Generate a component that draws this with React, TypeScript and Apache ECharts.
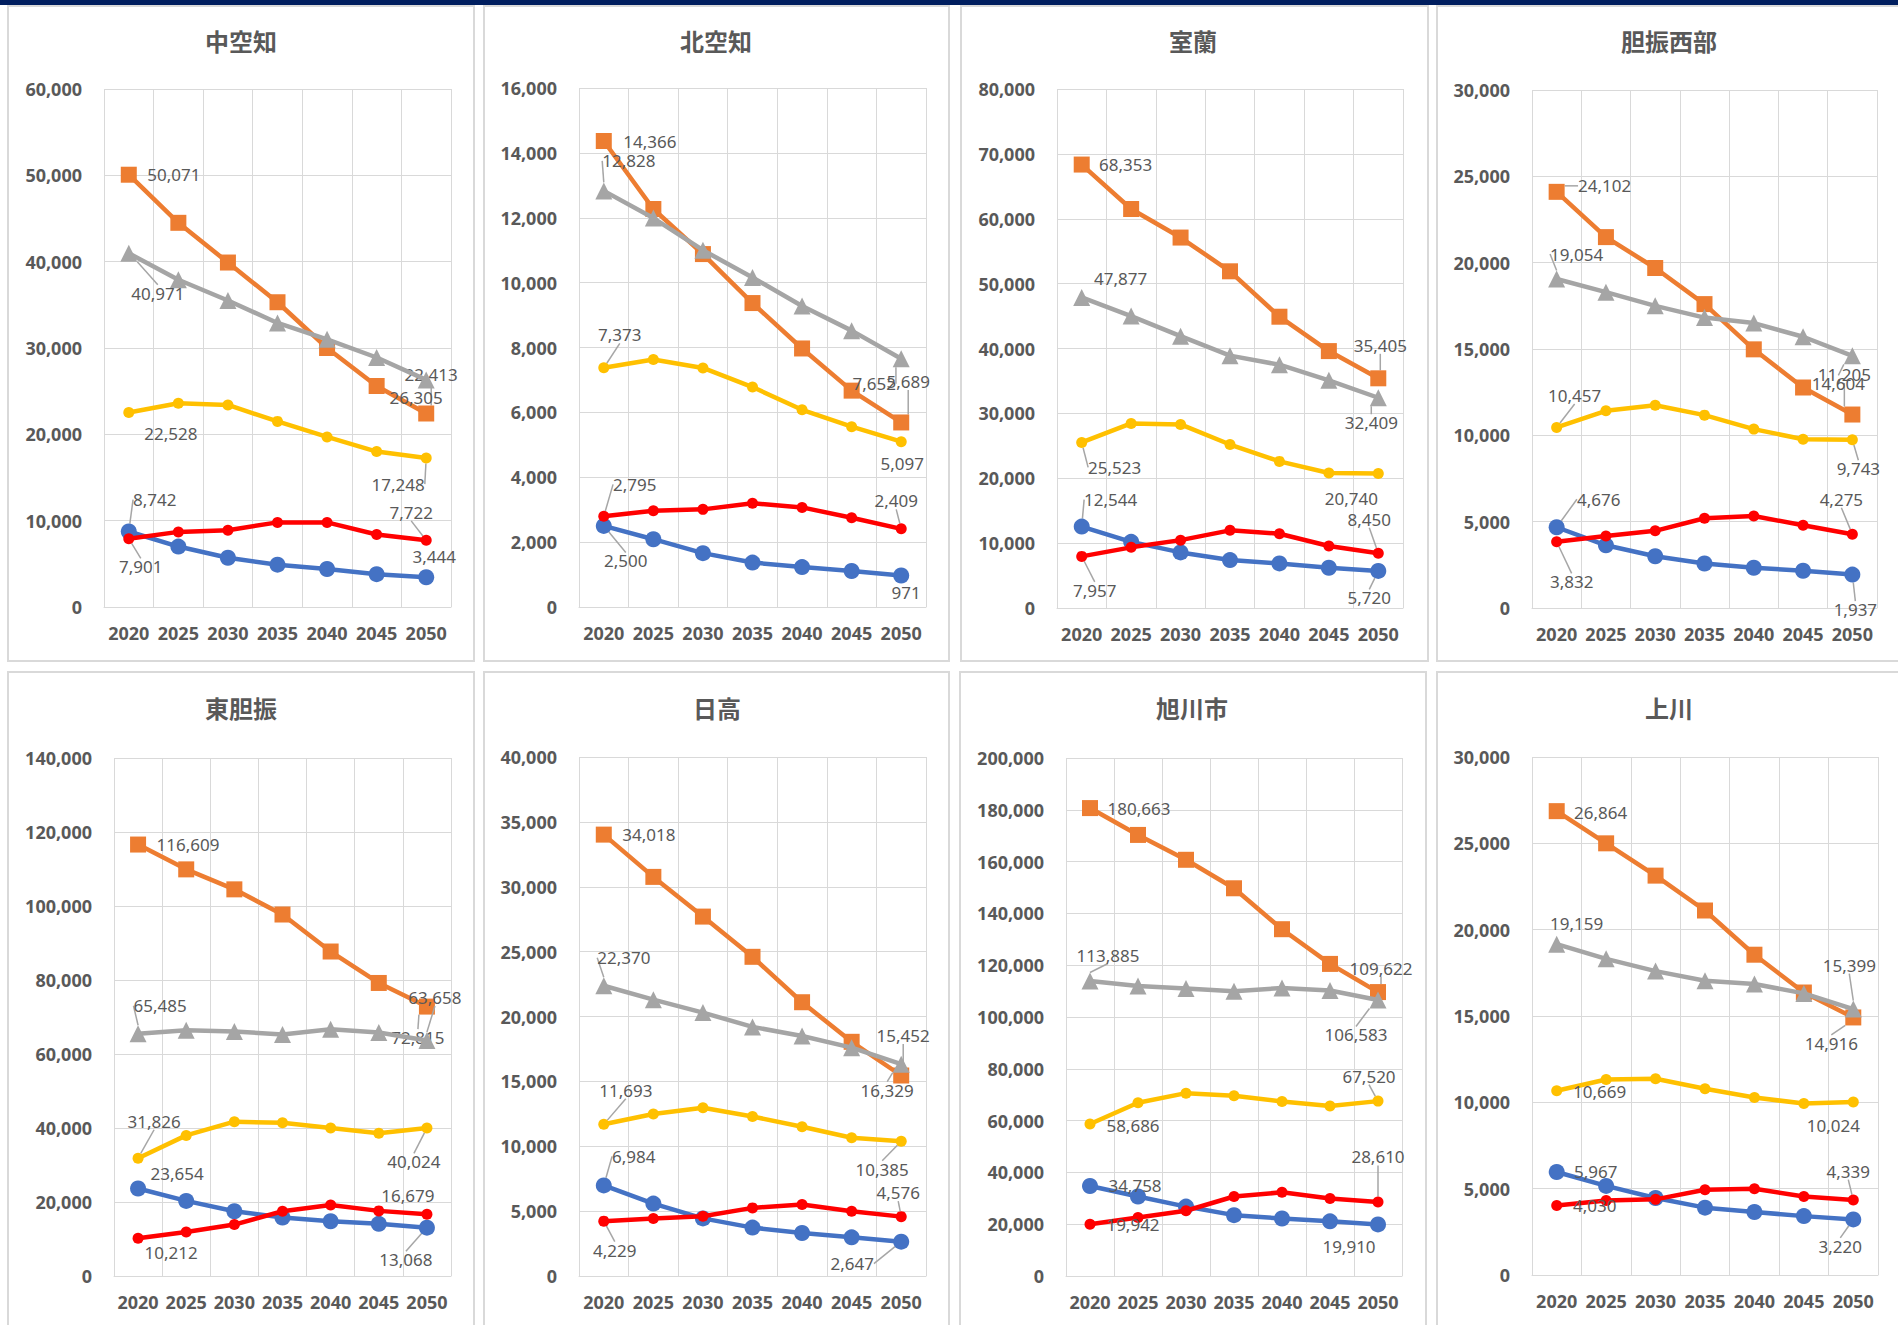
import React, { useEffect, useRef } from "react";
import * as echarts from "echarts";

// ---------------- data ----------------
const years = ["2020", "2025", "2030", "2035", "2040", "2045", "2050"];
const regions = ["中空知", "北空知", "室蘭", "胆振西部", "東胆振", "日高", "旭川市", "上川"];
const yMax = [60000, 16000, 80000, 30000, 140000, 40000, 200000, 30000];
const yStep = [10000, 2000, 10000, 5000, 20000, 5000, 20000, 5000];
const seriesNames = ["年少人口（0～14歳）", "生産年齢人口（15～64歳）", "老年人口（65歳以上）", "75歳以上", "85歳以上"];

const young = [
  [8742, 7000, 5700, 4900, 4400, 3800, 3444],
  [2500, 2090, 1660, 1370, 1230, 1110, 971],
  [12544, 10200, 8570, 7390, 6870, 6210, 5720],
  [4676, 3630, 3000, 2580, 2330, 2160, 1937],
  [23654, 20300, 17500, 15800, 14800, 14100, 13068],
  [6984, 5580, 4440, 3730, 3310, 2980, 2647],
  [34758, 30700, 26800, 23500, 22200, 21100, 19910],
  [5967, 5160, 4460, 3900, 3650, 3410, 3220],
];
const working = [
  [50071, 44500, 39900, 35300, 30000, 25600, 22413],
  [14366, 12270, 10880, 9370, 7970, 6670, 5689],
  [68353, 61500, 57100, 51900, 44900, 39600, 35405],
  [24102, 21480, 19690, 17600, 14980, 12770, 11205],
  [116609, 109900, 104500, 97700, 87700, 79200, 72815],
  [34018, 30760, 27700, 24600, 21100, 18050, 15452],
  [180663, 170300, 160700, 149700, 133900, 120500, 109622],
  [26864, 25000, 23130, 21110, 18550, 16360, 14916],
];
const elderly = [
  [40971, 37900, 35500, 32900, 31000, 28900, 26305],
  [12828, 11990, 11000, 10160, 9280, 8520, 7652],
  [47877, 45000, 41900, 38900, 37500, 35100, 32409],
  [19054, 18290, 17500, 16820, 16500, 15710, 14604],
  [65485, 66400, 66100, 65300, 66700, 65800, 63658],
  [22370, 21300, 20300, 19200, 18500, 17600, 16329],
  [113885, 112000, 111000, 109900, 111200, 110200, 106583],
  [19159, 18310, 17600, 17040, 16850, 16310, 15399],
];
const over75 = [
  [22528, 23600, 23400, 21500, 19700, 18000, 17248],
  [7373, 7630, 7370, 6780, 6080, 5560, 5097],
  [25523, 28450, 28300, 25200, 22600, 20800, 20740],
  [10457, 11420, 11740, 11170, 10360, 9770, 9743],
  [31826, 38000, 41700, 41400, 40000, 38600, 40024],
  [11693, 12480, 12970, 12290, 11500, 10660, 10385],
  [58686, 66900, 70600, 69600, 67400, 65600, 67520],
  [10669, 11320, 11370, 10790, 10280, 9930, 10024],
];
const over85 = [
  [7901, 8700, 8900, 9800, 9800, 8400, 7722],
  [2795, 2970, 3010, 3200, 3070, 2750, 2409],
  [7957, 9350, 10460, 11970, 11450, 9550, 8450],
  [3832, 4170, 4470, 5200, 5330, 4790, 4275],
  [10212, 11900, 13900, 17500, 19200, 17600, 16679],
  [4229, 4440, 4600, 5250, 5510, 4990, 4576],
  [19942, 22600, 25200, 30700, 32300, 29900, 28610],
  [4030, 4310, 4380, 4940, 4990, 4550, 4339],
];
const allSeries = [young, working, elderly, over75, over85];

// ---------------- layout & style ----------------
const seriesStyles = [
  { color: "#4472C4", symbol: "circle", size: 16 },
  { color: "#ED7D31", symbol: "rect", size: 16 },
  { color: "#A5A5A5", symbol: "triangle", size: 17 },
  { color: "#FFC000", symbol: "circle", size: 11 },
  { color: "#FF0000", symbol: "circle", size: 11 },
];

const panelBoxes = [
  { x: 8, y: 6, w: 466, h: 655 },
  { x: 484, y: 6, w: 465, h: 655 },
  { x: 961, y: 6, w: 467, h: 655 },
  { x: 1437, y: 6, w: 470, h: 655 },
  { x: 8, y: 672, w: 466, h: 670 },
  { x: 484, y: 672, w: 465, h: 670 },
  { x: 960, y: 672, w: 466, h: 670 },
  { x: 1437, y: 672, w: 470, h: 670 },
];
const plotBoxes = [
  { left: 104, top: 89, width: 347, height: 518 },
  { left: 579, top: 88, width: 347, height: 519 },
  { left: 1057, top: 89, width: 346, height: 519 },
  { left: 1532, top: 90, width: 345, height: 518 },
  { left: 114, top: 758, width: 337, height: 518 },
  { left: 579, top: 757, width: 347, height: 519 },
  { left: 1066, top: 758, width: 336, height: 518 },
  { left: 1532, top: 757, width: 346, height: 518 },
];
const titlePos = [
  [241, 40], [716, 40], [1193, 40], [1669, 40],
  [241, 707], [717, 707], [1192, 707], [1669, 707],
];
// label offsets per panel, per series: [first, last] each [dx, dy, leaderLine]
const labelOffsets = [
  [[[26, -32, 1], [8, -21, 0]], [[45, 0, 0], [5, -39, 1]], [[29, 40, 1], [-10, 18, 0]], [[42, 21, 0], [-28, 26, 1]], [[12, 28, 1], [-15, -28, 1]]],
  [[[22, 35, 1], [5, 17, 0]], [[46, 0, 0], [7, -41, 1]], [[25, -30, 1], [-27, 25, 1]], [[16, -33, 1], [1, 22, 0]], [[31, -32, 1], [-5, -28, 1]]],
  [[[29, -27, 1], [-9, 27, 1]], [[44, 0, 0], [2, -33, 1]], [[39, -19, 0], [-7, 25, 1]], [[33, 25, 1], [-27, 25, 0]], [[13, 34, 1], [-9, -34, 1]]],
  [[[42, -28, 1], [3, 35, 1]], [[48, -6, 1], [-8, -40, 1]], [[20, -25, 1], [-14, 28, 1]], [[18, -32, 1], [6, 29, 1]], [[15, 40, 1], [-11, -35, 1]]],
  [[[39, -15, 0], [-21, 32, 1]], [[50, 0, 0], [-9, 31, 1]], [[22, -28, 1], [8, -43, 1]], [[16, -37, 1], [-13, 34, 1]], [[33, 14, 0], [-19, -19, 0]]],
  [[[30, -29, 1], [-49, 22, 1]], [[45, 0, 0], [2, -40, 1]], [[20, -28, 1], [-14, 26, 1]], [[22, -34, 1], [-19, 28, 1]], [[11, 29, 1], [-3, -24, 1]]],
  [[[45, 0, 0], [-29, 22, 0]], [[49, 0, 0], [3, -24, 1]], [[18, -26, 1], [-22, 35, 1]], [[43, 1, 0], [-9, -25, 1]], [[43, 0, 0], [0, -45, 1]]],
  [[[39, 0, 0], [-13, 27, 1]], [[44, 1, 0], [-22, 26, 1]], [[20, -21, 0], [-4, -44, 1]], [[43, 1, 0], [-20, 24, 0]], [[38, 0, 0], [-5, -29, 1]]],
];

const TEXT = "#595959";
const GRID = "#D9D9D9";
const FONT = "'Noto Sans', 'Noto Sans CJK JP', sans-serif";
const fmt = (v: number) => v.toLocaleString("en-US");

function buildOption() {
  const grid: any[] = [];
  const xAxis: any[] = [];
  const yAxis: any[] = [];
  const series: any[] = [];
  const graphic: any[] = [];

  graphic.push({ type: "rect", shape: { x: 0, y: 0, width: 1898, height: 5 }, style: { fill: "#001E5F" }, z: 10 });

  regions.forEach((name, p) => {
    const b = panelBoxes[p];
    graphic.push({
      type: "rect",
      shape: { x: b.x, y: b.y, width: b.w, height: b.h },
      style: { fill: "none", stroke: GRID, lineWidth: 2 },
      silent: true,
    });
    graphic.push({
      type: "text",
      x: titlePos[p][0],
      y: titlePos[p][1],
      style: {
        text: name,
        fill: TEXT,
        font: `bold 24px 'Noto Sans CJK JP', sans-serif`,
        textAlign: "center",
        textVerticalAlign: "middle",
      },
    });

    grid.push({ ...plotBoxes[p], containLabel: false });
    xAxis.push({
      type: "category",
      gridIndex: p,
      data: years,
      boundaryGap: true,
      axisLine: { lineStyle: { color: GRID, width: 1 } },
      axisTick: { show: false },
      axisLabel: { color: TEXT, fontSize: 18, fontWeight: "bold", fontFamily: FONT, margin: 17, interval: 0 },
      splitLine: { show: true, interval: 0, lineStyle: { color: GRID, width: 1 } },
    });
    yAxis.push({
      type: "value",
      gridIndex: p,
      min: 0,
      max: yMax[p],
      interval: yStep[p],
      axisLine: { show: false },
      axisTick: { show: false },
      axisLabel: { color: TEXT, fontSize: 18, fontWeight: "bold", fontFamily: FONT, margin: 22, formatter: fmt },
      splitLine: { lineStyle: { color: GRID, width: 1 } },
    });

    allSeries.forEach((arr, s) => {
      const st = seriesStyles[s];
      const offs = labelOffsets[p][s];
      const vals = arr[p];
      const data = vals.map((v, i) => {
        if (i === 0 || i === vals.length - 1) {
          const o = i === 0 ? offs[0] : offs[1];
          return { value: v, label: { show: true }, labelLine: { show: o[2] === 1 } };
        }
        return v;
      });
      series.push({
        type: "line",
        name: seriesNames[s],
        xAxisIndex: p,
        yAxisIndex: p,
        data,
        symbol: st.symbol,
        symbolSize: st.size,
        showAllSymbol: true,
        lineStyle: { color: st.color, width: 4.5 },
        itemStyle: { color: st.color, borderWidth: 0 },
        z: 2 + s,
        label: {
          show: false,
          position: "inside",
          color: TEXT,
          fontSize: 17,
          fontFamily: FONT,
          formatter: (prm: any) => fmt(prm.value),
        },
        labelLine: { show: false, lineStyle: { color: "#A6A6A6", width: 1.5 } },
        labelLayout: (prm: any) => {
          const idx = prm.dataIndex;
          if (idx === 0) return { dx: offs[0][0], dy: offs[0][1] };
          if (idx === vals.length - 1) return { dx: offs[1][0], dy: offs[1][1] };
          return {};
        },
        emphasis: { disabled: true },
      });
    });
  });

  return {
    animation: false,
    backgroundColor: "#ffffff",
    grid,
    xAxis,
    yAxis,
    series,
    graphic,
  };
}

export default function App() {
  const ref = useRef<HTMLDivElement>(null);
  useEffect(() => {
    if (!ref.current) return;
    const chart = echarts.init(ref.current, null, { renderer: "svg" });
    chart.setOption(buildOption() as any);
    return () => chart.dispose();
  }, []);
  return (
    <div
      ref={ref}
      style={{ position: "absolute", left: 0, top: 0, width: 1898, height: 1325, background: "#fff" }}
    />
  );
}
